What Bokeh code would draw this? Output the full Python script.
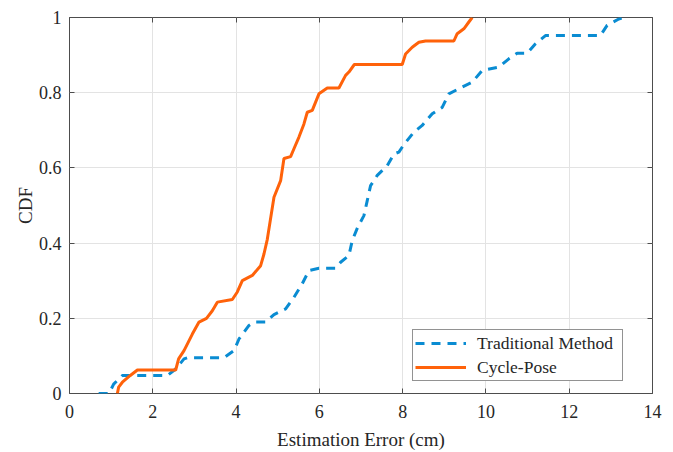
from bokeh.plotting import figure
from bokeh.models import Range1d, FixedTicker, LinearAxis, Legend, LegendItem
from bokeh.embed import file_html
from bokeh.resources import INLINE

# ---- data ----
trad_err = [0.70, 0.95, 1.06, 1.27, 2.35, 2.55, 2.75, 2.83, 3.71, 3.95, 4.07, 4.31, 4.43, 4.71,
            4.91, 5.19, 5.39, 5.59, 5.75, 5.99, 6.39, 6.51, 6.71, 6.79, 6.92, 7.07, 7.15, 7.23,
            7.39, 7.63, 7.79, 7.91, 8.03, 8.27, 8.47, 8.71, 8.95, 9.11, 9.39, 9.67, 9.91, 10.31,
            10.55, 10.75, 10.99, 11.19, 11.43, 12.75, 12.91, 13.19, 13.31]
trad_cdf = [0.0, 0.0, 0.025, 0.048, 0.048, 0.065, 0.092, 0.095, 0.095, 0.114, 0.145, 0.181, 0.190, 0.190,
            0.210, 0.225, 0.256, 0.292, 0.327, 0.333, 0.333, 0.349, 0.367, 0.407, 0.442, 0.473, 0.513, 0.553,
            0.580, 0.606, 0.637, 0.642, 0.662, 0.695, 0.713, 0.744, 0.761, 0.797, 0.813, 0.828, 0.859, 0.868,
            0.890, 0.905, 0.905, 0.930, 0.952, 0.952, 0.979, 0.996, 1.0]

cycle_err = [1.15, 1.18, 1.27, 1.46, 1.63, 2.55, 2.62, 2.75, 2.95, 3.11, 3.29, 3.43, 3.55, 3.91,
             4.03, 4.15, 4.39, 4.59, 4.67, 4.75, 4.91, 5.07, 5.15, 5.31, 5.39, 5.51, 5.63, 5.71,
             5.83, 5.99, 6.19, 6.47, 6.63, 6.71, 6.84, 7.99, 8.07, 8.23, 8.39, 8.55, 9.23, 9.31,
             9.47, 9.59, 9.67]
cycle_cdf = [0.0, 0.017, 0.030, 0.048, 0.0625, 0.0625, 0.092, 0.114, 0.158, 0.190, 0.200, 0.220, 0.243, 0.250,
             0.270, 0.300, 0.314, 0.340, 0.371, 0.410, 0.522, 0.566, 0.625, 0.630, 0.651, 0.682, 0.717, 0.748,
             0.753, 0.797, 0.8125, 0.8125, 0.846, 0.855, 0.875, 0.875, 0.903, 0.921, 0.934, 0.9375, 0.9375, 0.957,
             0.970, 0.988, 1.0]

x_ticks = [0, 2, 4, 6, 8, 10, 12, 14]
y_ticks = [0, 0.2, 0.4, 0.6, 0.8, 1]
y_tick_labels = ["0", "0.2", "0.4", "0.6", "0.8", "1"]
series_names = ["Traditional Method", "Cycle-Pose"]

BLUE = "#0A8CD2"
ORANGE = "#FF620A"
FONT = "Liberation Serif"
TXT = "#262626"
AX = "#4d4d4d"

p = figure(width=673, height=452, output_backend="svg", toolbar_location=None,
           x_range=Range1d(0, 14), y_range=Range1d(0, 1),
           min_border_left=69, min_border_right=21, min_border_top=17, min_border_bottom=59)
p.background_fill_color = "white"
p.border_fill_color = "white"
p.outline_line_color = AX
p.outline_line_width = 1

for ax in (p.xaxis[0], p.yaxis[0]):
    ax.axis_line_color = None
    ax.major_tick_line_color = AX
    ax.major_tick_in = 5
    ax.major_tick_out = 0
    ax.minor_tick_line_color = None
    ax.major_label_text_font = FONT
    ax.major_label_text_font_style = "normal"
    ax.major_label_text_font_size = "18px"
    ax.major_label_text_color = TXT
    ax.axis_label_text_font = FONT
    ax.axis_label_text_font_size = "19px"
    ax.axis_label_text_font_style = "normal"
    ax.axis_label_text_color = TXT

p.xaxis[0].major_label_standoff = 11
p.yaxis[0].major_label_standoff = 8
p.xaxis.ticker = FixedTicker(ticks=x_ticks)
p.yaxis.ticker = FixedTicker(ticks=y_ticks)
p.yaxis.major_label_overrides = {t: l for t, l in zip(y_ticks, y_tick_labels)}
p.xaxis.axis_label = "Estimation Error (cm)"
p.yaxis.axis_label = "CDF"
p.xaxis.axis_label_standoff = 8
p.yaxis.axis_label_standoff = 0

# mirrored ticks (top/right) without labels
top = LinearAxis(ticker=FixedTicker(ticks=x_ticks), axis_line_color=None,
                 major_tick_line_color=AX, major_tick_in=5, major_tick_out=0,
                 minor_tick_line_color=None, major_label_standoff=0,
                 major_label_text_font_size="1px",
                 major_label_overrides={t: "" for t in x_ticks})
right = LinearAxis(ticker=FixedTicker(ticks=y_ticks), axis_line_color=None,
                   major_tick_line_color=AX, major_tick_in=5, major_tick_out=0,
                   minor_tick_line_color=None, major_label_standoff=0,
                   major_label_text_font_size="1px",
                   major_label_overrides={t: "" for t in y_ticks})
p.add_layout(top, "above")
p.add_layout(right, "right")

p.xgrid.ticker = FixedTicker(ticks=x_ticks)
p.ygrid.ticker = FixedTicker(ticks=y_ticks)
p.xgrid.grid_line_color = "#e3e3e3"
p.ygrid.grid_line_color = "#e3e3e3"

r_trad = p.line(trad_err, trad_cdf, line_color=BLUE, line_width=3, line_dash="9 7")
r_cyc = p.line(cycle_err, cycle_cdf, line_color=ORANGE, line_width=3)

legend = Legend(items=[LegendItem(label=series_names[0], renderers=[r_trad]),
                       LegendItem(label=series_names[1], renderers=[r_cyc])],
                location=(343, 12))
legend.label_text_font = FONT
legend.label_text_font_style = "normal"
legend.label_text_font_size = "17.5px"
legend.label_text_color = TXT
legend.glyph_width = 51
legend.glyph_height = 22
legend.label_height = 22
legend.label_width = 143
legend.label_standoff = 11
legend.spacing = 2
legend.padding = 2
legend.margin = 0
legend.border_line_color = "#262626"
legend.border_line_width = 1
legend.background_fill_color = "white"
legend.background_fill_alpha = 1
p.add_layout(legend, "center")

open("out.html", "w").write(file_html(p, INLINE))
